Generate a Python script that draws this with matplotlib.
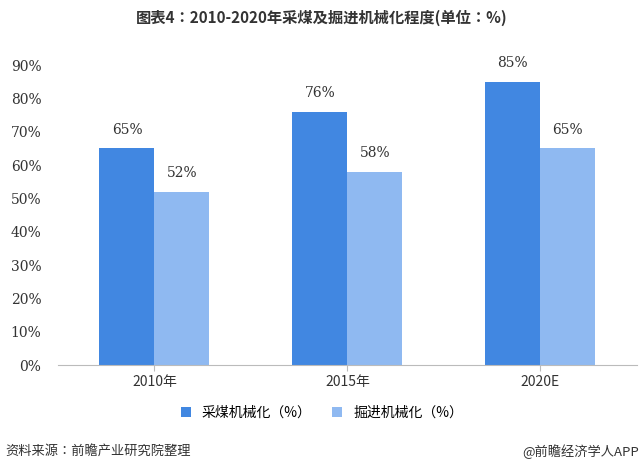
import matplotlib.pyplot as plt
from matplotlib import font_manager as fm
import numpy as np

cjk = [f for f in fm.findSystemFonts() if 'CJK' in f or 'cjk' in f]
for f in cjk:
    try:
        fm.fontManager.addfont(f)
    except Exception:
        pass
names = sorted({fm.FontProperties(fname=f).get_name() for f in cjk})
cjk_name = next((n for n in names if 'SC' in n), names[0] if names else 'DejaVu Sans')
plt.rcParams['font.family'] = [cjk_name, 'DejaVu Sans']

years = ['2010年', '2015年', '2020E']
coal_mining = [65, 76, 85]
tunneling = [52, 58, 65]
yticks = list(range(0, 100, 10))

fig = plt.figure(figsize=(6.44, 4.70), dpi=100)
ax = fig.add_axes([0.090, 0.2234, 0.899, 0.6383])

x = np.arange(len(years))
w = 0.285
b1 = ax.bar(x - w / 2, coal_mining, w, color='#4187e1', label='采煤机械化（%）')
b2 = ax.bar(x + w / 2, tunneling, w, color='#8fb9f1', label='掘进机械化（%）')
for bars in (b1, b2):
    for r in bars:
        ax.text(r.get_x() + r.get_width() / 2, r.get_height() + 3.5, f'{r.get_height():.0f}%',
                ha='center', va='bottom', fontsize=10, color='#333333', family='DejaVu Serif')

ax.set_xlim(-0.5, 2.5)
ax.set_ylim(0, 90)
ax.set_yticks(yticks)
ax.set_yticklabels([f'{v}%' for v in yticks], family='DejaVu Serif', fontsize=10, color='#333333')
ax.set_xticks(x)
ax.set_xticklabels(years, fontsize=10, color='#333333')
for s in ('top', 'right', 'left'):
    ax.spines[s].set_visible(False)
ax.spines['bottom'].set_color('#bbbbbb')
ax.tick_params(axis='y', length=0, pad=12)
ax.tick_params(axis='x', length=4, color='#bbbbbb')

fig.text(0.5, 0.962, '图表4：2010-2020年采煤及掘进机械化程度(单位：%)', ha='center', va='center',
         fontsize=11, fontweight='bold', color='#333333')
fig.legend(handles=[b1, b2], loc='center', bbox_to_anchor=(0.5, 0.121), ncol=2, frameon=False,
           fontsize=10, handlelength=0.7, handleheight=0.7, columnspacing=1.5)
fig.text(0.008, 0.038, '资料来源：前瞻产业研究院整理', fontsize=9.5, color='#333333', va='center')
fig.text(0.992, 0.038, '@前瞻经济学人APP', fontsize=9.5, color='#333333', va='center', ha='right')
fig.savefig('out.png')
